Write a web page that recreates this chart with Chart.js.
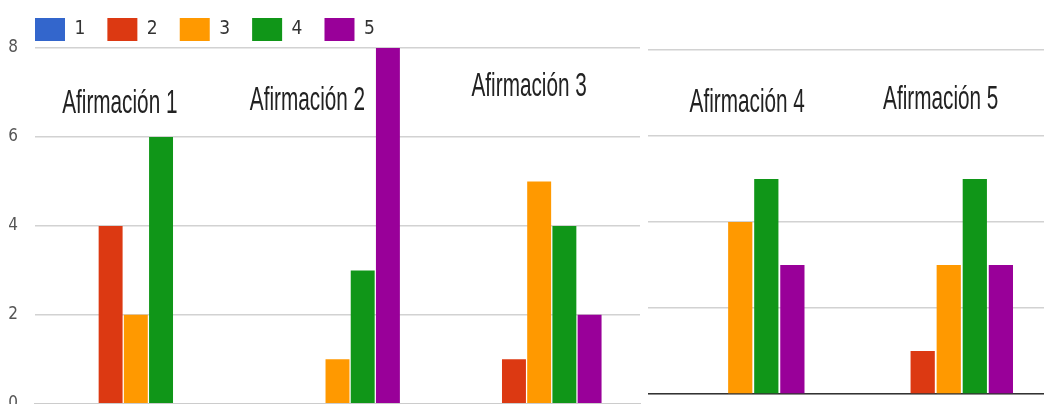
<!DOCTYPE html>
<html>
<head>
<meta charset="utf-8">
<script src="https://cdn.jsdelivr.net/npm/chart.js@4"></script>
<style>
  html, body { margin: 0; padding: 0; background: #fff; overflow: hidden; }
  #wrap { position: relative; width: 1044px; height: 404px; overflow: hidden; }
  #leftBox { position: absolute; left: 0; top: 0; width: 648px; height: 431px; background: #fff; z-index: 2; }
  #rightBox { position: absolute; left: 636px; top: 0; width: 420px; height: 404px; z-index: 1; }
</style>
</head>
<body>
<div id="wrap">
  <div id="leftBox"><canvas id="left" width="648" height="431"></canvas></div>
  <div id="rightBox"><canvas id="right" width="420" height="404"></canvas></div>
</div>
<script>
// Response levels (legend) and the statements answered
const levels = ['1', '2', '3', '4', '5'];
const levelColors = ['#3366cc', '#dc3912', '#ff9900', '#109618', '#990099'];

const leftCategories = ['Afirmación 1', 'Afirmación 2', 'Afirmación 3'];
const rightCategories = ['Afirmación 4', 'Afirmación 5'];

// Count of answers per level, one array per level
const leftLevel1 = [0, 0, 0];
const leftLevel2 = [4, 0, 1];
const leftLevel3 = [2, 1, 5];
const leftLevel4 = [6, 3, 4];
const leftLevel5 = [0, 8, 2];

const rightLevel1 = [0, 0];
const rightLevel2 = [0, 1];
const rightLevel3 = [4, 3];
const rightLevel4 = [5, 5];
const rightLevel5 = [3, 3];

const yTicks = [0, 2, 4, 6, 8];

const condensed = "'DejaVu Sans Condensed', 'Liberation Sans Narrow', sans-serif";
const captionFont = "25px 'Liberation Sans', Arial, sans-serif";

// Statement captions drawn inside the plot, relative to each group centre
const leftCaptionShift = [[-16, 113], [-30, 110], [-10, 96]];
const rightCaptionShift = [[7, 112], [-8, 109]];

function captionPlugin(shifts) {
  return {
    id: 'captions',
    afterDatasetsDraw(chart) {
      const ctx = chart.ctx;
      const xs = chart.scales.x;
      ctx.save();
      ctx.fillStyle = '#222';
      ctx.font = captionFont;
      ctx.textAlign = 'center';
      ctx.textBaseline = 'alphabetic';
      chart.data.labels.forEach((label, i) => {
        const cx = xs.getPixelForValue(i) + shifts[i][0];
        ctx.save();
        ctx.translate(cx, shifts[i][1]);
        ctx.scale(0.83, 1.33);
        ctx.fillText(label, 0, 0);
        ctx.restore();
      });
      ctx.restore();
    }
  };
}

// Start the legend row at the plot's left edge and nudge it down a little
const legendIndent = {
  id: 'legendIndent',
  afterLayout(chart) {
    const lg = chart.legend;
    if (!lg) return;
    const dx = chart.chartArea.left - lg.left - lg.options.labels.padding;
    lg.left += dx;
    lg.right += dx;
    lg.top += 3;
    lg.bottom += 3;
  }
};

function makeDatasets(series, barPct) {
  return series.map((values, i) => ({
    label: levels[i],
    data: values,
    backgroundColor: levelColors[i],
    borderWidth: 0,
    categoryPercentage: 0.625,
    barPercentage: barPct
  }));
}

Chart.defaults.animation = false;
Chart.defaults.responsive = false;

new Chart(document.getElementById('left'), {
  type: 'bar',
  data: {
    labels: leftCategories,
    datasets: makeDatasets([leftLevel1, leftLevel2, leftLevel3, leftLevel4, leftLevel5], 0.95)
  },
  options: {
    layout: { padding: { left: 0, right: 8, top: -7, bottom: 5 } },
    plugins: {
      legend: {
        display: true,
        position: 'top',
        align: 'start',
        labels: {
          boxWidth: 30,
          boxHeight: 23,
          padding: 22,
          color: '#333',
          font: { family: condensed, size: 19 }
        }
      },
      tooltip: { enabled: false }
    },
    scales: {
      x: {
        grid: { display: false, drawTicks: false },
        border: { display: true, color: '#cccccc', width: 1.5 },
        ticks: { display: false },
        afterFit(scale) { scale.height = 0; }
      },
      y: {
        min: 0,
        max: 8,
        afterBuildTicks(scale) { scale.ticks = yTicks.map(v => ({ value: v })); },
        ticks: {
          padding: 17,
          color: '#555',
          font: { family: condensed, size: 17 }
        },
        grid: { color: '#d2d2d2', lineWidth: 1.5, drawTicks: false },
        border: { display: false },
        afterFit(scale) { scale.width = 35; }
      }
    }
  },
  plugins: [captionPlugin(leftCaptionShift), legendIndent]
});

new Chart(document.getElementById('right'), {
  type: 'bar',
  data: {
    labels: rightCategories,
    datasets: makeDatasets([rightLevel1, rightLevel2, rightLevel3, rightLevel4, rightLevel5], 0.93)
  },
  options: {
    layout: { padding: { left: 0, right: 3, top: 50, bottom: 10 } },
    plugins: { legend: { display: false }, tooltip: { enabled: false } },
    scales: {
      x: {
        grid: { display: false, drawTicks: false },
        border: { display: true, color: '#333333', width: 1.5 },
        ticks: { display: false },
        afterFit(scale) { scale.height = 0; }
      },
      y: {
        min: 0,
        max: 8,
        afterBuildTicks(scale) { scale.ticks = yTicks.map(v => ({ value: v })); },
        ticks: { display: false },
        grid: { color: '#d2d2d2', lineWidth: 1.5, drawTicks: false },
        border: { display: false },
        afterFit(scale) { scale.width = 0; }
      }
    }
  },
  plugins: [captionPlugin(rightCaptionShift)]
});
</script>
</body>
</html>
